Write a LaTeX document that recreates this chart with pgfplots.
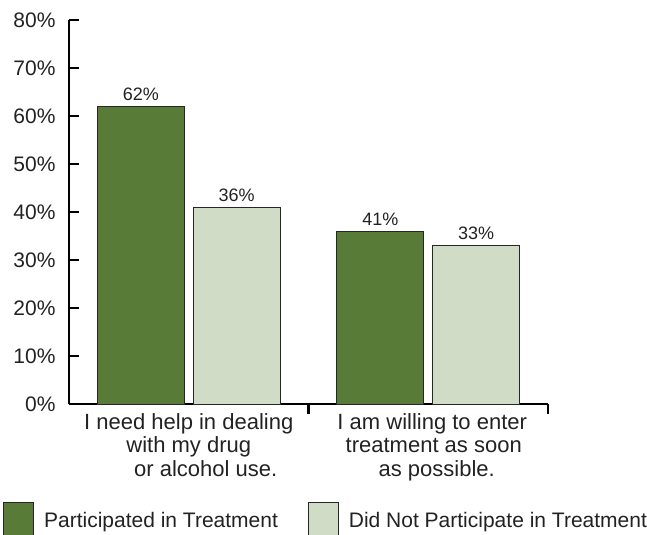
\documentclass[border=0pt]{standalone}
\usepackage{pgfplots}
\pgfplotsset{compat=1.18}
\usepackage{fontspec}
\setmainfont{Liberation Sans}
\definecolor{darkg}{RGB}{88,124,55}
\definecolor{lightg}{RGB}{208,220,198}
\definecolor{txt}{RGB}{34,34,34}
\begin{document}
\begin{tikzpicture}
\begin{axis}[
  scale only axis,
  width=479bp, height=384bp,
  xmin=0, xmax=2, ymin=0, ymax=80,
  enlargelimits=false,
  axis lines=left,
  axis line style={-, line width=2.5bp, black},
  tick align=inside,
  major tick length=10bp,
  tick style={line width=2.5bp, black},
  ytick={0,10,20,30,40,50,60,70,80},
  yticklabels={0\%,10\%,20\%,30\%,40\%,50\%,60\%,70\%,80\%},
  yticklabel style={font=\fontsize{21bp}{24bp}\selectfont, text=txt, xshift=-10bp},
  xtick={1,2},
  xticklabels={},
  extra x ticks={0.5,1.5},
  extra x tick labels={I need help in dealing\\with my drug\\\hspace*{34bp}or alcohol use.,\hspace*{8bp}I am willing to enter\\\hspace*{11bp}treatment as soon\\\hspace*{17bp}as possible.},
  extra x tick style={major tick length=0pt, tick style={draw=none}},
  xticklabel style={font=\fontsize{22bp}{23.5bp}\selectfont, text=txt, align=center, yshift=-6bp},
  ybar, bar width=0.3625,
  nodes near coords,
  point meta=explicit symbolic,
  every node near coord/.append style={font=\fontsize{18bp}{20bp}\selectfont, text=txt, yshift=2bp},
  legend columns=2,
  legend style={at={(-0.138,-0.255)}, anchor=north west, draw=none, fill=none,
    font=\fontsize{21bp}{24bp}\selectfont, text=txt,
    column sep=8bp, inner sep=0pt,
    /tikz/every even column/.append style={column sep=28bp}},
  legend cell align=left,
]
\addplot[bar shift=0pt, fill=darkg, draw=black!85, line width=1bp,
  legend image code/.code={\draw[fill=darkg, draw=black!85, line width=1bp] (0bp,-17bp) rectangle (30bp,18bp);}]
  coordinates {(0.3,62) [62\%] (1.3,36) [41\%]};
\addplot[bar shift=0pt, fill=lightg, draw=black!85, line width=1bp,
  legend image code/.code={\draw[fill=lightg, draw=black!85, line width=1bp] (0bp,-17bp) rectangle (30bp,18bp);}]
  coordinates {(0.7,41) [36\%] (1.7,33) [33\%]};
\legend{Participated in Treatment, Did Not Participate in Treatment}
\end{axis}
\pgfresetboundingbox
\path (-69bp,-131bp) rectangle (578bp,404bp);
\end{tikzpicture}
\end{document}
